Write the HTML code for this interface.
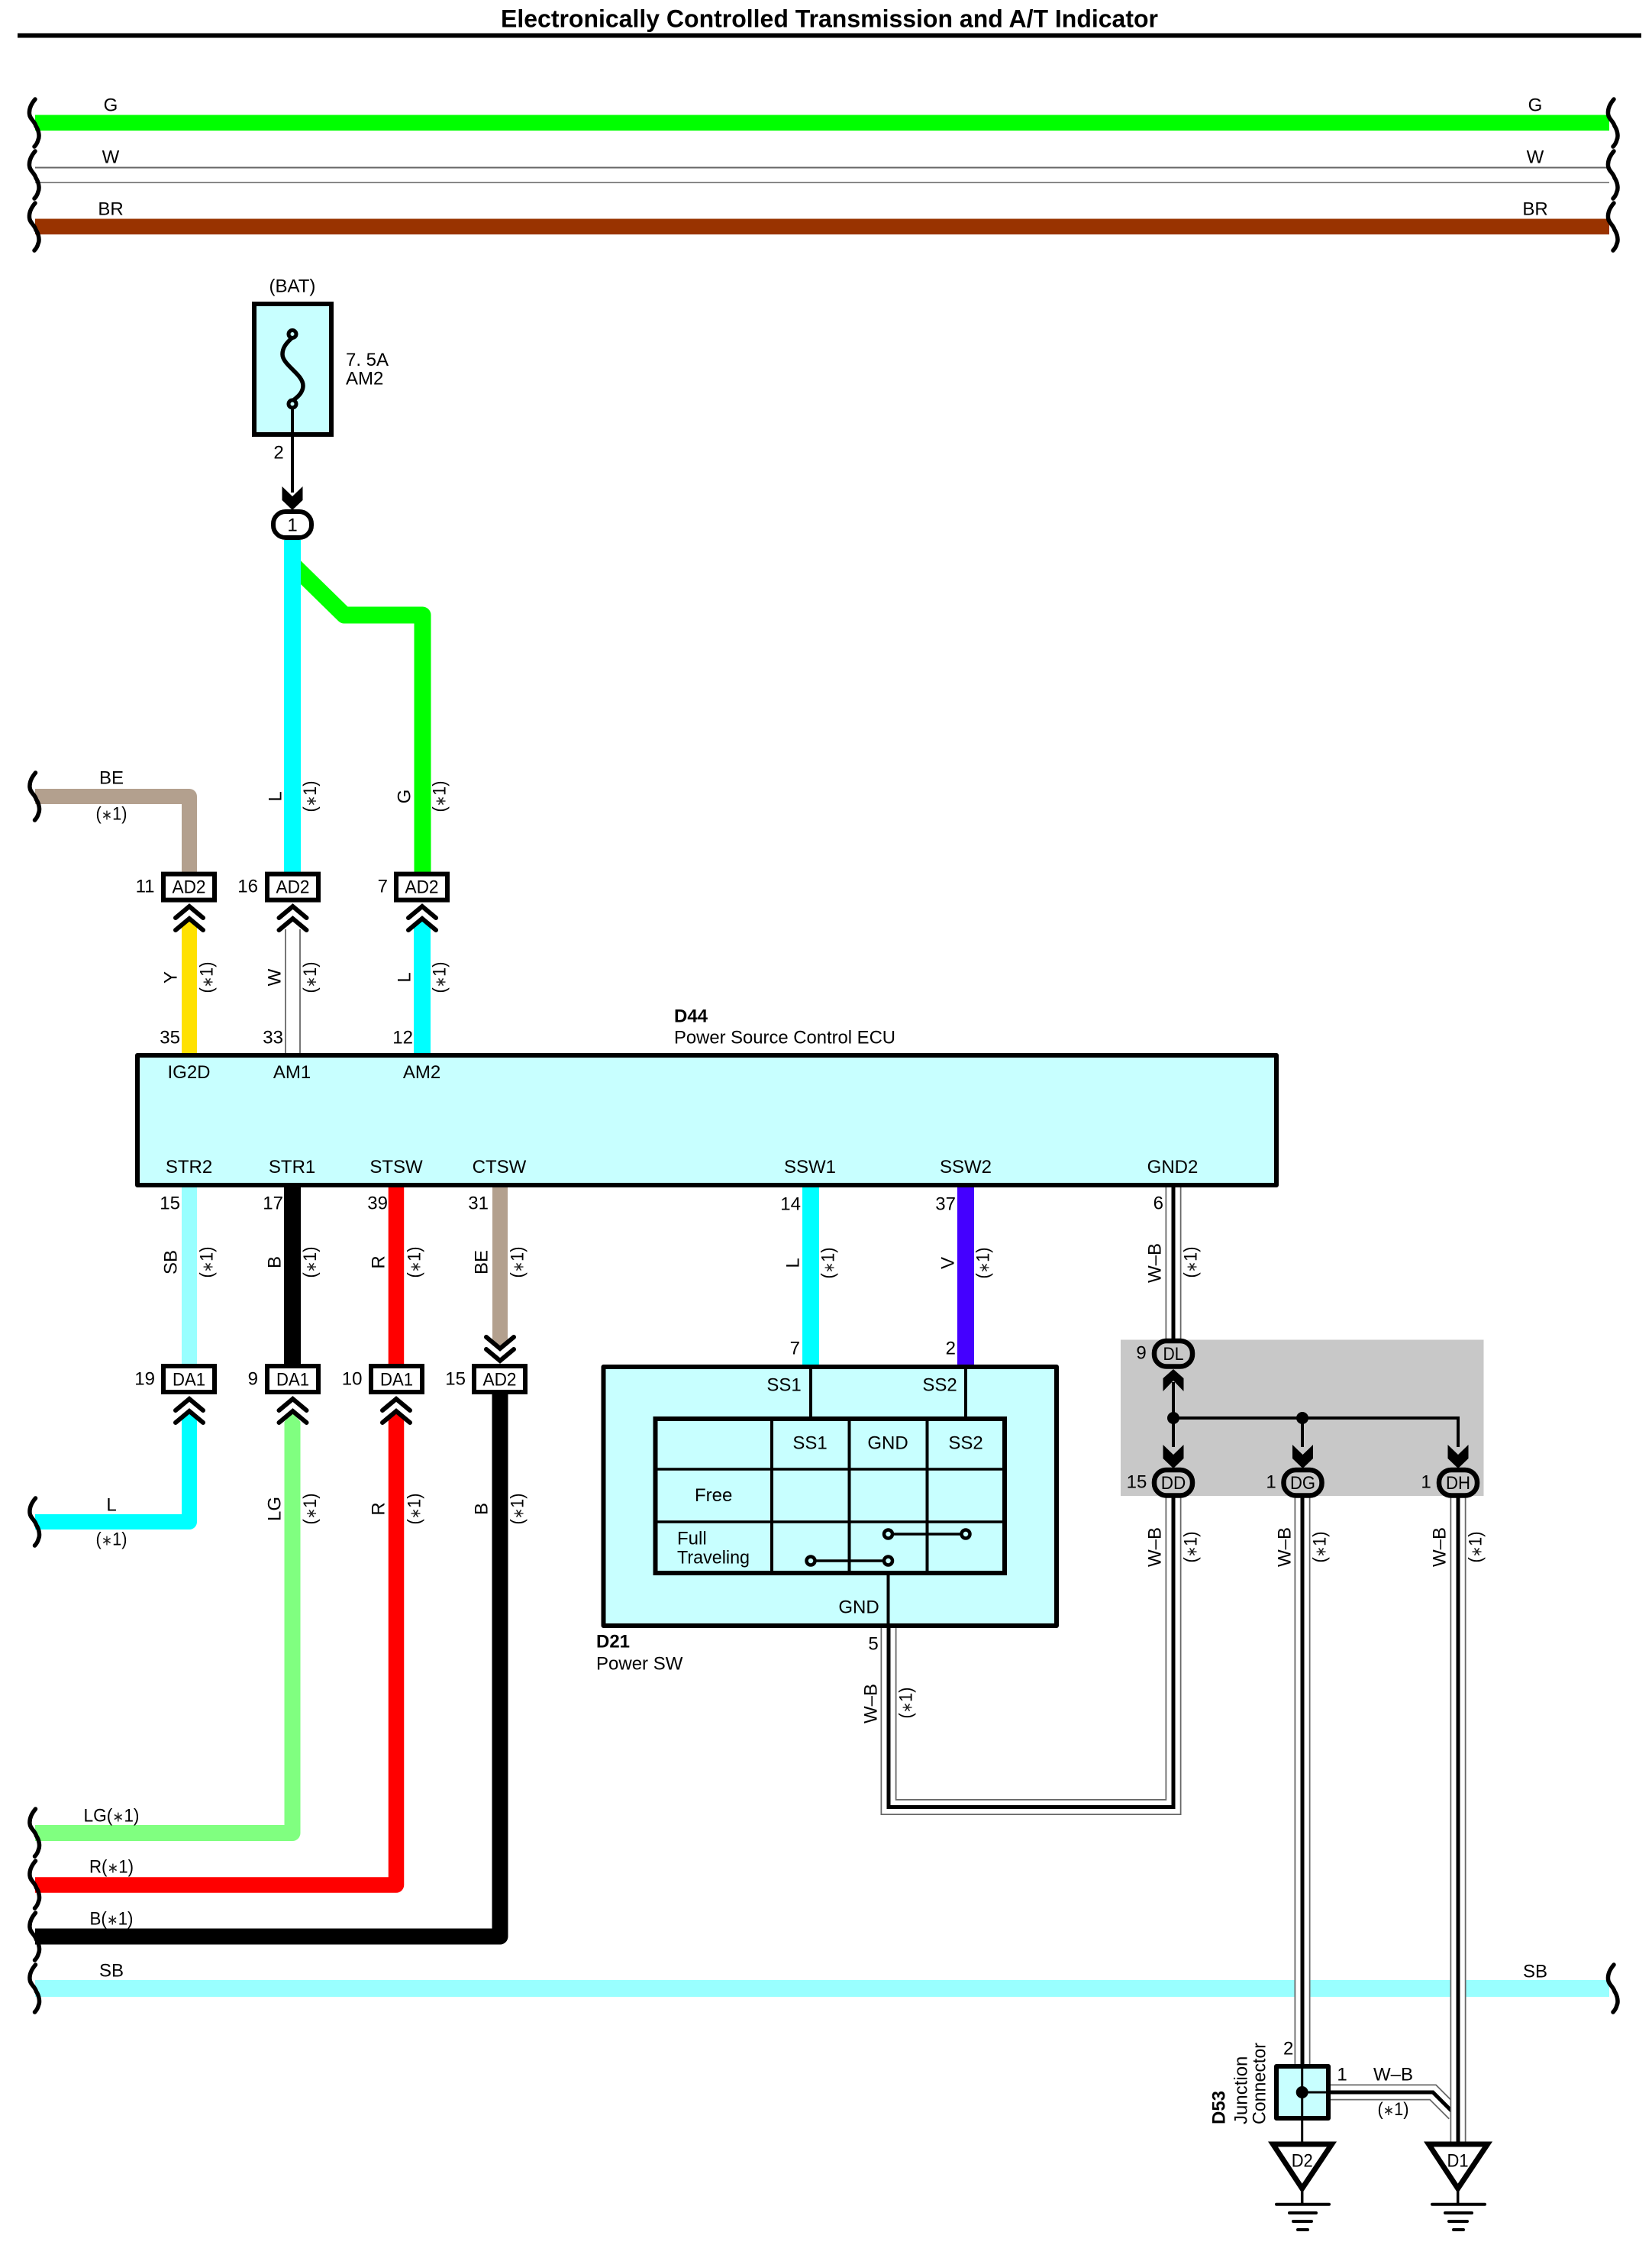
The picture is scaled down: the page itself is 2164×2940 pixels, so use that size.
<!DOCTYPE html>
<html lang="en">
<head>
<meta charset="utf-8">
<title>Electronically Controlled Transmission and A/T Indicator</title>
<style>
html,body{margin:0;padding:0;background:#fff;}
svg{display:block;}
text{font-family:"Liberation Sans",Arial,sans-serif;font-size:24px;fill:#000;}
.m{text-anchor:middle;}
.e{text-anchor:end;}
.b{font-weight:bold;}
.a{font-size:19px;fill:#222;}
.w{fill:none;stroke-linejoin:round;}
.gy{fill:none;stroke:#666;stroke-width:21;stroke-linejoin:miter;}
.wh{fill:none;stroke:#fff;stroke-width:17.5;stroke-linejoin:miter;}
.bk{fill:none;stroke:#000;stroke-width:5;stroke-linejoin:miter;}
.c{fill:#fff;stroke:#000;stroke-width:6;}
.pl{fill:#c8c8c8;stroke:#000;stroke-width:6.5;}
.ln{stroke:#000;fill:none;}
.ch{fill:none;stroke:#000;stroke-width:6;stroke-linecap:round;}
.br{fill:none;stroke:#000;stroke-width:5.5;stroke-linecap:round;}
.box{fill:#c8ffff;stroke:#000;stroke-width:6;stroke-linejoin:round;}
</style>
</head>
<body>
<svg xmlns="http://www.w3.org/2000/svg" width="2164" height="2940" viewBox="0 0 2164 2940">
<defs>
<path id="brace" class="br" d="M1 -31 C-5 -24 -7 -18 -6.5 -12 C-6 -5 0 -3 2 4 C6 10 7 18 5 22 C4 26 2 29 0 31"/>
<path id="cu" class="ch" d="M-18 15 L0 0 L18 15 M-18 31 L0 16 L18 31"/>
<path id="cd" class="ch" d="M-18 -15 L0 0 L18 -15 M-18 -31 L0 -16 L18 -31"/>
<polygon id="ad" points="-13.5,-31 0,-18 13.5,-31 13.5,-13 0,0 -13.5,-13" fill="#000"/>
<polygon id="au" points="-13.5,29 0,15 13.5,29 13.5,12 0,0 -13.5,12" fill="#000"/>
</defs>

<!-- title -->
<text class="b" x="656" y="35.5" style="font-size:32px" textLength="861" lengthAdjust="spacingAndGlyphs">Electronically Controlled Transmission and A/T Indicator</text>
<rect x="23" y="43.5" width="2127" height="6" fill="#000"/>

<!-- top buses -->
<rect x="46" y="150.5" width="2062" height="20.5" fill="#00ff00"/>
<rect x="46" y="218.5" width="2062" height="2" fill="#666"/>
<rect x="46" y="238" width="2062" height="2" fill="#888"/>
<rect x="46" y="286.5" width="2062" height="20.5" fill="#993300"/>
<rect x="46" y="2593" width="2062" height="22" fill="#99ffff"/>

<!-- upper wires -->
<path class="w" d="M46 1043 H248 V1142" stroke="#b3a08e" stroke-width="20"/>
<path class="w" d="M380 736 L451 805.5 H553.5 V1142" stroke="#00ff00" stroke-width="22"/>
<path class="w" d="M383 707 V1142" stroke="#00ffff" stroke-width="22"/>

<rect x="238" y="1212" width="20" height="168" fill="#ffe100"/>
<polygon points="238,1212 248,1203 258,1212" fill="#ffe100"/>
<rect x="373" y="1217" width="2" height="162" fill="#777"/>
<rect x="392" y="1217" width="2" height="162" fill="#777"/>
<rect x="542" y="1212" width="22" height="168" fill="#00ffff"/>
<polygon points="542,1212 553,1203 564,1212" fill="#00ffff"/>

<!-- lower wires -->
<rect x="238" y="1553" width="20" height="234" fill="#99ffff"/>
<rect x="372" y="1553" width="22" height="234" fill="#000"/>
<rect x="508.7" y="1553" width="20.5" height="234" fill="#ff0000"/>
<rect x="645" y="1553" width="20" height="202" fill="#b3a08e"/>
<polygon points="645,1755 655,1766 665,1755" fill="#b3a08e"/>
<rect x="1051" y="1553" width="22" height="234" fill="#00ffff"/>
<rect x="1254" y="1553" width="22" height="234" fill="#4400ff"/>

<path class="w" d="M46 1993 H248 V1860" stroke="#00ffff" stroke-width="20"/>
<polygon points="238,1860 248,1849 258,1860" fill="#00ffff"/>
<path class="w" d="M46 2400.5 H383 V1862" stroke="#80ff80" stroke-width="21"/>
<polygon points="372.5,1862 383,1849 393.5,1862" fill="#80ff80"/>
<path class="w" d="M46 2468.5 H519 V1860" stroke="#ff0000" stroke-width="20.5"/>
<polygon points="508.7,1860 519,1849 529.3,1860" fill="#ff0000"/>
<path class="w" d="M46 2536 H655 V1826" stroke="#000" stroke-width="21"/>

<!-- W-B wires -->
<path class="gy" d="M1537 1555 V1760"/><path class="wh" d="M1537 1555 V1760"/><path class="bk" d="M1537 1555 V1760"/>
<path class="gy" d="M1164 2130 V2366.5 H1537 V1960"/><path class="wh" d="M1164 2130 V2366.5 H1537 V1960"/><path class="bk" d="M1164 2130 V2366.5 H1537 V1960"/>
<path class="gy" d="M1743 2740 H1877 L1905 2768"/><path class="wh" d="M1743 2740 H1877 L1905 2768"/><path class="bk" d="M1743 2740 H1877 L1905 2768"/>
<path class="gy" d="M1706 1960 V2705"/><path class="wh" d="M1706 1960 V2705"/><path class="bk" d="M1706 1960 V2705"/>
<path class="gy" d="M1910 1960 V2806"/><path class="wh" d="M1910 1960 V2806"/><path class="bk" d="M1910 1960 V2806"/>

<!-- braces -->
<use href="#brace" x="45" y="161"/><use href="#brace" x="45" y="229"/><use href="#brace" x="45" y="297"/>
<use href="#brace" x="2113" y="161"/><use href="#brace" x="2113" y="229"/><use href="#brace" x="2113" y="297"/>
<use href="#brace" x="45.5" y="1043"/><use href="#brace" x="45.5" y="1993"/>
<use href="#brace" x="45.5" y="2400"/><use href="#brace" x="45.5" y="2468"/><use href="#brace" x="45.5" y="2536"/><use href="#brace" x="45.5" y="2604"/>
<use href="#brace" x="2113" y="2604"/>

<!-- bus labels -->
<text class="m" x="145" y="145.5">G</text><text class="m" x="145" y="213.5">W</text><text class="m" x="145" y="281.5">BR</text>
<text class="m" x="2011" y="145.5">G</text><text class="m" x="2011" y="213.5">W</text><text class="m" x="2011" y="281.5">BR</text>
<text class="m" x="146" y="1026.5">BE</text><text class="m" x="146" y="1073.5" textLength="41" lengthAdjust="spacingAndGlyphs">(<tspan class="a">∗</tspan>1)</text>
<text class="m" x="146" y="1978.5">L</text><text class="m" x="146" y="2023.5" textLength="41" lengthAdjust="spacingAndGlyphs">(<tspan class="a">∗</tspan>1)</text>
<text class="m" x="146" y="2385.5" textLength="73" lengthAdjust="spacingAndGlyphs">LG(<tspan class="a">∗</tspan>1)</text>
<text class="m" x="146" y="2452.5" textLength="58" lengthAdjust="spacingAndGlyphs">R(<tspan class="a">∗</tspan>1)</text>
<text class="m" x="146" y="2520.5" textLength="57" lengthAdjust="spacingAndGlyphs">B(<tspan class="a">∗</tspan>1)</text>
<text class="m" x="146" y="2588.5">SB</text>
<text class="m" x="2011" y="2589.5">SB</text>

<!-- fuse -->
<text class="m" x="383" y="382.5">(BAT)</text>
<rect class="box" x="333" y="398" width="101" height="171" style="stroke-linejoin:miter"/>
<path class="ln" stroke-width="5.5" d="M383 442 C374 450 370 456 370 464 C370 478 397 490 397 505 C397 514 390 520 383 525"/>
<line class="ln" stroke-width="4" x1="383" y1="534" x2="383" y2="645"/>
<circle cx="383" cy="437.5" r="5" fill="#c8ffff" stroke="#000" stroke-width="5"/>
<circle cx="383" cy="529" r="5" fill="#c8ffff" stroke="#000" stroke-width="5"/>
<text x="453" y="479">7. 5A</text>
<text x="453" y="503.5">AM2</text>
<text class="m" x="365" y="600.5">2</text>
<use href="#ad" x="383" y="668"/>
<rect class="c" x="358" y="670" width="50" height="34" rx="16"/>
<text class="m" x="383" y="695.5">1</text>

<!-- AD2 top connectors -->
<rect class="c" x="214" y="1144.6" width="67" height="34"/><text class="m" x="247.5" y="1169.5" textLength="44" lengthAdjust="spacingAndGlyphs">AD2</text>
<rect class="c" x="350" y="1144.6" width="67" height="34"/><text class="m" x="383.5" y="1169.5" textLength="44" lengthAdjust="spacingAndGlyphs">AD2</text>
<rect class="c" x="519" y="1144.6" width="67" height="34"/><text class="m" x="552.5" y="1169.5" textLength="44" lengthAdjust="spacingAndGlyphs">AD2</text>
<text class="e" x="202.5" y="1168.5">11</text><text class="e" x="338" y="1168.5">16</text><text class="e" x="508" y="1168.5">7</text>
<use href="#cu" x="248" y="1187"/><use href="#cu" x="383.5" y="1187"/><use href="#cu" x="553" y="1187"/>

<g transform="translate(360 1043) rotate(-90)"><text class="m" y="8.5">L</text></g>
<g transform="translate(405.6 1043) rotate(-90)"><text class="m" y="8.5" textLength="41" lengthAdjust="spacingAndGlyphs">(<tspan class="a">∗</tspan>1)</text></g>
<g transform="translate(529 1043) rotate(-90)"><text class="m" y="8.5">G</text></g>
<g transform="translate(575 1043) rotate(-90)"><text class="m" y="8.5" textLength="41" lengthAdjust="spacingAndGlyphs">(<tspan class="a">∗</tspan>1)</text></g>
<g transform="translate(223 1280) rotate(-90)"><text class="m" y="8.5">Y</text></g>
<g transform="translate(270 1280) rotate(-90)"><text class="m" y="8.5" textLength="41" lengthAdjust="spacingAndGlyphs">(<tspan class="a">∗</tspan>1)</text></g>
<g transform="translate(359 1280) rotate(-90)"><text class="m" y="8.5">W</text></g>
<g transform="translate(405.6 1280) rotate(-90)"><text class="m" y="8.5" textLength="41" lengthAdjust="spacingAndGlyphs">(<tspan class="a">∗</tspan>1)</text></g>
<g transform="translate(529 1280) rotate(-90)"><text class="m" y="8.5">L</text></g>
<g transform="translate(575 1280) rotate(-90)"><text class="m" y="8.5" textLength="41" lengthAdjust="spacingAndGlyphs">(<tspan class="a">∗</tspan>1)</text></g>
<text class="e" x="236" y="1366.5">35</text><text class="e" x="371" y="1366.5">33</text><text class="e" x="541" y="1366.5">12</text>

<!-- D44 -->
<text class="b" x="883" y="1338.5">D44</text>
<text x="883" y="1366.5" textLength="290" lengthAdjust="spacingAndGlyphs">Power Source Control ECU</text>
<rect class="box" x="180" y="1382" width="1492" height="170"/>
<text class="m" x="247.5" y="1412">IG2D</text><text class="m" x="382.6" y="1412">AM1</text><text class="m" x="552.6" y="1412">AM2</text>
<text class="m" x="247.5" y="1536">STR2</text><text class="m" x="382.6" y="1536">STR1</text><text class="m" x="519" y="1536">STSW</text><text class="m" x="654" y="1536">CTSW</text>
<text class="m" x="1061" y="1536">SSW1</text><text class="m" x="1265" y="1536">SSW2</text><text class="m" x="1536" y="1536">GND2</text>

<text class="e" x="236" y="1583.5">15</text><text class="e" x="371" y="1583.5">17</text><text class="e" x="508" y="1583.5">39</text><text class="e" x="640" y="1583.5">31</text>
<text class="e" x="1049" y="1584.5">14</text><text class="e" x="1252" y="1584.5">37</text><text class="e" x="1524" y="1583.5">6</text>

<g transform="translate(223 1653) rotate(-90)"><text class="m" y="8.5">SB</text></g>
<g transform="translate(270 1653) rotate(-90)"><text class="m" y="8.5" textLength="41" lengthAdjust="spacingAndGlyphs">(<tspan class="a">∗</tspan>1)</text></g>
<g transform="translate(359 1653) rotate(-90)"><text class="m" y="8.5">B</text></g>
<g transform="translate(405.6 1653) rotate(-90)"><text class="m" y="8.5" textLength="41" lengthAdjust="spacingAndGlyphs">(<tspan class="a">∗</tspan>1)</text></g>
<g transform="translate(495 1653) rotate(-90)"><text class="m" y="8.5">R</text></g>
<g transform="translate(542 1653) rotate(-90)"><text class="m" y="8.5" textLength="41" lengthAdjust="spacingAndGlyphs">(<tspan class="a">∗</tspan>1)</text></g>
<g transform="translate(630 1653) rotate(-90)"><text class="m" y="8.5">BE</text></g>
<g transform="translate(677 1653) rotate(-90)"><text class="m" y="8.5" textLength="41" lengthAdjust="spacingAndGlyphs">(<tspan class="a">∗</tspan>1)</text></g>
<g transform="translate(1038 1654) rotate(-90)"><text class="m" y="8.5">L</text></g>
<g transform="translate(1084 1654) rotate(-90)"><text class="m" y="8.5" textLength="41" lengthAdjust="spacingAndGlyphs">(<tspan class="a">∗</tspan>1)</text></g>
<g transform="translate(1241 1654) rotate(-90)"><text class="m" y="8.5">V</text></g>
<g transform="translate(1287 1654) rotate(-90)"><text class="m" y="8.5" textLength="41" lengthAdjust="spacingAndGlyphs">(<tspan class="a">∗</tspan>1)</text></g>
<g transform="translate(1512 1654) rotate(-90)"><text class="m" y="8.5">W–B</text></g>
<g transform="translate(1559 1653) rotate(-90)"><text class="m" y="8.5" textLength="41" lengthAdjust="spacingAndGlyphs">(<tspan class="a">∗</tspan>1)</text></g>

<!-- DA1 connectors -->
<rect class="c" x="214" y="1789" width="67" height="34"/><text class="m" x="247.5" y="1814.5" textLength="43" lengthAdjust="spacingAndGlyphs">DA1</text>
<rect class="c" x="350" y="1789" width="67" height="34"/><text class="m" x="383.5" y="1814.5" textLength="43" lengthAdjust="spacingAndGlyphs">DA1</text>
<rect class="c" x="486" y="1789" width="67" height="34"/><text class="m" x="519.5" y="1814.5" textLength="43" lengthAdjust="spacingAndGlyphs">DA1</text>
<rect class="c" x="621" y="1789" width="67" height="34"/><text class="m" x="654.5" y="1814.5" textLength="44" lengthAdjust="spacingAndGlyphs">AD2</text>
<text class="e" x="203" y="1813.5">19</text><text class="e" x="338" y="1813.5">9</text><text class="e" x="474.5" y="1813.5">10</text><text class="e" x="610" y="1813.5">15</text>
<use href="#cu" x="248" y="1832"/><use href="#cu" x="383.5" y="1832"/><use href="#cu" x="519" y="1832"/><use href="#cd" x="655" y="1782"/>

<g transform="translate(359 1976) rotate(-90)"><text class="m" y="8.5">LG</text></g>
<g transform="translate(405.6 1976) rotate(-90)"><text class="m" y="8.5" textLength="41" lengthAdjust="spacingAndGlyphs">(<tspan class="a">∗</tspan>1)</text></g>
<g transform="translate(495 1976) rotate(-90)"><text class="m" y="8.5">R</text></g>
<g transform="translate(542 1976) rotate(-90)"><text class="m" y="8.5" textLength="41" lengthAdjust="spacingAndGlyphs">(<tspan class="a">∗</tspan>1)</text></g>
<g transform="translate(630 1976) rotate(-90)"><text class="m" y="8.5">B</text></g>
<g transform="translate(677 1976) rotate(-90)"><text class="m" y="8.5" textLength="41" lengthAdjust="spacingAndGlyphs">(<tspan class="a">∗</tspan>1)</text></g>

<!-- D21 power switch -->
<text class="e" x="1048" y="1773.5">7</text><text class="e" x="1252" y="1773.5">2</text>
<rect class="box" x="790.5" y="1790" width="593.5" height="339"/>
<line class="ln" stroke-width="4" x1="1062" y1="1790" x2="1062" y2="1858"/>
<line class="ln" stroke-width="4" x1="1265" y1="1790" x2="1265" y2="1858"/>
<line class="ln" stroke-width="4" x1="1163.5" y1="2060" x2="1163.5" y2="2130"/>
<text class="m" x="1027" y="1821.5">SS1</text><text class="m" x="1231" y="1821.5">SS2</text>
<rect class="box" x="858.5" y="1858" width="457.5" height="202" style="stroke-linejoin:miter"/>
<line class="ln" stroke-width="4" x1="1011" y1="1858" x2="1011" y2="2060"/>
<line class="ln" stroke-width="4" x1="1112.5" y1="1858" x2="1112.5" y2="2060"/>
<line class="ln" stroke-width="4" x1="1214.5" y1="1858" x2="1214.5" y2="2060"/>
<line class="ln" stroke-width="3.5" x1="858.5" y1="1924" x2="1316" y2="1924"/>
<line class="ln" stroke-width="3.5" x1="858.5" y1="1993" x2="1316" y2="1993"/>
<text class="m" x="1061" y="1897.5">SS1</text><text class="m" x="1163" y="1897.5">GND</text><text class="m" x="1265" y="1897.5">SS2</text>
<text class="m" x="934.7" y="1966">Free</text>
<text x="887" y="2022.5">Full</text>
<text x="887" y="2047.5" textLength="95" lengthAdjust="spacingAndGlyphs">Traveling</text>
<line class="ln" stroke-width="3.5" x1="1163.5" y1="2009" x2="1265" y2="2009"/>
<line class="ln" stroke-width="3.5" x1="1062" y1="2044" x2="1163.5" y2="2044"/>
<circle cx="1163.5" cy="2009" r="5.5" fill="#c8ffff" stroke="#000" stroke-width="4.5"/>
<circle cx="1265" cy="2009" r="5.5" fill="#c8ffff" stroke="#000" stroke-width="4.5"/>
<circle cx="1062" cy="2044" r="5.5" fill="#c8ffff" stroke="#000" stroke-width="4.5"/>
<circle cx="1163.5" cy="2044" r="5.5" fill="#c8ffff" stroke="#000" stroke-width="4.5"/>
<text class="m" x="1125" y="2112.5">GND</text>
<text class="b" x="781" y="2157.5">D21</text>
<text x="781" y="2186.5">Power SW</text>
<text class="m" x="1144" y="2160.5">5</text>
<g transform="translate(1140 2231) rotate(-90)"><text class="m" y="8.5">W–B</text></g>
<g transform="translate(1186 2230) rotate(-90)"><text class="m" y="8.5" textLength="41" lengthAdjust="spacingAndGlyphs">(<tspan class="a">∗</tspan>1)</text></g>

<!-- gray junction block -->
<rect x="1468" y="1754.5" width="475.5" height="204.5" fill="#c8c8c8"/>
<path class="ln" stroke-width="4" d="M1537 1810 V1895 M1537 1857 H1910 V1895 M1706 1857 V1895"/>
<circle cx="1537" cy="1857" r="8" fill="#000"/>
<circle cx="1706" cy="1857" r="8" fill="#000"/>
<use href="#au" x="1537" y="1793"/>
<use href="#ad" x="1537" y="1923"/><use href="#ad" x="1706.5" y="1923"/><use href="#ad" x="1910" y="1923"/>
<rect class="pl" x="1512" y="1756" width="50" height="33.5" rx="16"/><text class="m" x="1537" y="1781" textLength="27" lengthAdjust="spacingAndGlyphs">DL</text>
<rect class="pl" x="1512" y="1925" width="50" height="33.5" rx="16"/><text class="m" x="1537" y="1950" textLength="32.5" lengthAdjust="spacingAndGlyphs">DD</text>
<rect class="pl" x="1681.5" y="1925" width="50" height="33.5" rx="16"/><text class="m" x="1706.5" y="1950" textLength="33" lengthAdjust="spacingAndGlyphs">DG</text>
<rect class="pl" x="1885" y="1925" width="50" height="33.5" rx="16"/><text class="m" x="1910" y="1950" textLength="32" lengthAdjust="spacingAndGlyphs">DH</text>
<text class="m" x="1495" y="1779.5">9</text>
<text class="m" x="1489" y="1948.5">15</text><text class="m" x="1665" y="1948.5">1</text><text class="m" x="1868" y="1948.5">1</text>

<g transform="translate(1512 2026) rotate(-90)"><text class="m" y="8.5">W–B</text></g>
<g transform="translate(1559 2026) rotate(-90)"><text class="m" y="8.5" textLength="41" lengthAdjust="spacingAndGlyphs">(<tspan class="a">∗</tspan>1)</text></g>
<g transform="translate(1682 2026) rotate(-90)"><text class="m" y="8.5">W–B</text></g>
<g transform="translate(1728 2026) rotate(-90)"><text class="m" y="8.5" textLength="41" lengthAdjust="spacingAndGlyphs">(<tspan class="a">∗</tspan>1)</text></g>
<g transform="translate(1885 2026) rotate(-90)"><text class="m" y="8.5">W–B</text></g>
<g transform="translate(1932 2026) rotate(-90)"><text class="m" y="8.5" textLength="41" lengthAdjust="spacingAndGlyphs">(<tspan class="a">∗</tspan>1)</text></g>

<!-- D53 junction -->
<rect class="box" x="1672" y="2706" width="68" height="68"/>
<line class="ln" stroke-width="3" x1="1705.7" y1="2706" x2="1705.7" y2="2810"/>
<line class="ln" stroke-width="3" x1="1705.7" y1="2740" x2="1740" y2="2740"/>
<circle cx="1705.7" cy="2740" r="8" fill="#000"/>
<text class="m" x="1687.7" y="2690.5">2</text>
<text class="m" x="1758" y="2724.5">1</text>
<text class="m" x="1825" y="2724.5">W–B</text>
<text class="m" x="1825" y="2770" textLength="41" lengthAdjust="spacingAndGlyphs">(<tspan class="a">∗</tspan>1)</text>
<g transform="translate(1596 2782) rotate(-90)"><text class="b" y="8.5">D53</text></g>
<g transform="translate(1625 2782) rotate(-90)"><text y="8.5">Junction</text></g>
<g transform="translate(1649 2782) rotate(-90)"><text y="8.5" textLength="107" lengthAdjust="spacingAndGlyphs">Connector</text></g>

<!-- grounds -->
<polygon points="1667.5,2808 1744.5,2808 1705.7,2866" fill="#fff" stroke="#000" stroke-width="7"/>
<polygon points="1871.5,2808 1948.5,2808 1909.7,2866" fill="#fff" stroke="#000" stroke-width="7"/>
<text class="m" x="1705.7" y="2837.5" textLength="28" lengthAdjust="spacingAndGlyphs">D2</text>
<text class="m" x="1909.5" y="2837.5" textLength="28" lengthAdjust="spacingAndGlyphs">D1</text>
<path class="ln" stroke-width="3.5" d="M1705.7 2870 V2887 M1909.7 2870 V2887"/>
<path class="ln" stroke-width="4" stroke-linecap="round" d="M1672 2886.7 H1741 M1689 2898 H1724 M1694 2909 H1718 M1700 2920 H1713 M1876 2886.7 H1945 M1893 2898 H1928 M1898 2909 H1922 M1904 2920 H1917"/>
</svg>
</body>
</html>
